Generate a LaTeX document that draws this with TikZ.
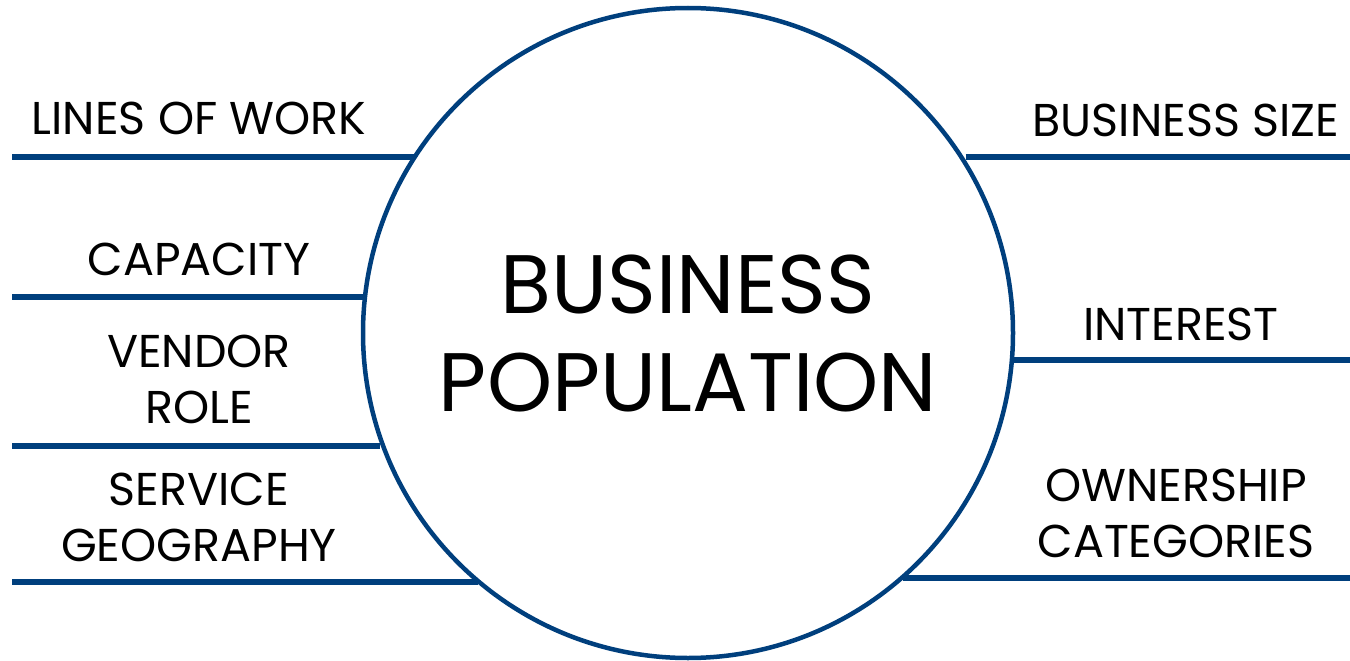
\documentclass[tikz,border=0pt]{standalone}
\usepackage{fontspec}
\setmainfont{Poppins}
\usepackage{tikz}
\usetikzlibrary{positioning}
\definecolor{popblue}{RGB}{0,63,125}

\begin{document}
\begin{tikzpicture}[x=1pt,y=-1pt,
    band/.style={popblue, line width=5.5pt},
    topic/.style={font=\fontsize{46}{56}\selectfont, align=center, inner sep=0pt}]
   \useasboundingbox (0,0) rectangle (1350,661);
   \node[circle, draw=popblue, line width=4.5pt, minimum size=650pt, inner sep=0pt,
         font=\fontsize{83}{98}\selectfont, align=center] (pop) at (688,333) {BUSINESS\\POPULATION};

   \coordinate (lw) at (12,157);
   \coordinate (cap) at (12,297);
   \coordinate (ven) at (12,446);
   \coordinate (geo) at (12,582);
   \coordinate (size) at (1350,157);
   \coordinate (int) at (1350,360);
   \coordinate (own) at (1350,578);

   \node[topic] (tlw)  at (199,118) {LINES OF WORK};
   \node[topic] (tcap) at (199,259) {CAPACITY};
   \node[topic] (tven) at (199,379) {VENDOR\\ROLE};
   \node[topic] (tgeo) at (199,517) {SERVICE\\GEOGRAPHY};
   \node[topic] (tsize) at (1186,120) {BUSINESS SIZE};
   \node[topic] (tint)  at (1181,324) {INTEREST};
   \node[topic] (town)  at (1176,513) {OWNERSHIP\\CATEGORIES};

   \draw[band] (lw)  -- (lw -| pop.147.2);
   \draw[band] (cap) -- (cap -| pop.173.6);
   \draw[band] (ven) -- (ven -| pop.200.3);
   \draw[band] (geo) -- (geo -| pop.230);
   \draw[band] (size -| pop.32.8)  -- (size);
   \draw[band] (int -| pop.355.2) -- (int);
   \draw[band] (own -| pop.311.1) -- (own);
\end{tikzpicture}
\end{document}
